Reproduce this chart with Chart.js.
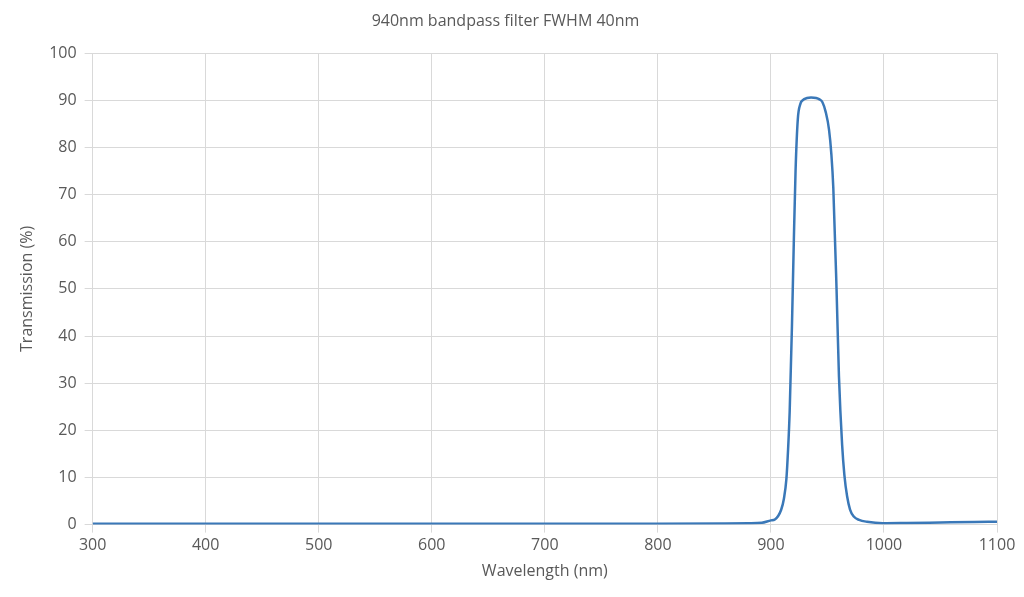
<!DOCTYPE html>
<html>
<head>
<meta charset="utf-8">
<script src="https://cdn.jsdelivr.net/npm/chart.js@4"></script>
<style>
  body { margin: 0; background: #fff; }
  #wrap { width: 1024px; height: 597px; }
</style>
</head>
<body>
<div id="wrap"><canvas id="chart"></canvas></div>
<script>
// wavelength (nm) and transmission (%)
const wavelengths = [300, 400, 500, 600, 700, 800, 860, 880, 892, 900, 903.5, 909, 911.5, 913.7, 915.2, 916.6, 918.6, 920.3, 921.8, 923.8, 926, 928, 932, 935.5, 940, 943, 945.6, 948.5, 951.4, 953.5, 955.2, 958.1, 960.2, 963, 965, 967.4, 970, 973.3, 978, 985, 999, 1020, 1050, 1080, 1100];
const transmission = [0.2, 0.2, 0.2, 0.2, 0.2, 0.2, 0.25, 0.3, 0.4, 0.9, 1.1, 3.1, 5.5, 9.7, 16, 24, 42, 60.5, 75, 86, 89.2, 90, 90.5, 90.6, 90.5, 90.2, 89.6, 87.5, 83.8, 78.5, 71.4, 49.6, 31.4, 16.9, 10.5, 6, 3.2, 1.7, 1, 0.6, 0.3, 0.35, 0.45, 0.55, 0.6];
const xTicks = [300, 400, 500, 600, 700, 800, 900, 1000, 1100];

const points = wavelengths.map((w, i) => ({ x: w, y: transmission[i] }));
const textColor = '#595959';
const font = { family: 'Open Sans', size: 16 };

new Chart(document.getElementById('chart'), {
    type: 'line',
    data: {
        datasets: [{
            data: points,
            borderColor: '#3a78b8',
            borderWidth: 2.5,
            pointRadius: 0,
            cubicInterpolationMode: 'monotone'
        }]
    },
    options: {
        responsive: true,
        maintainAspectRatio: false,
        animation: false,
        layout: { padding: { left: 14, right: 27, top: 4, bottom: 12 } },
        plugins: {
            legend: { display: false },
            tooltip: { enabled: false },
            title: {
                display: true,
                text: '940nm bandpass filter FWHM 40nm',
                color: textColor,
                font: { family: 'Open Sans', size: 16, weight: 'normal' },
                padding: { top: 8, bottom: 22 }
            }
        },
        scales: {
            x: {
                type: 'linear',
                min: 300, max: 1100,
                afterBuildTicks: axis => { axis.ticks = xTicks.map(v => ({ value: v })); },
                grid: { color: '#d9d9d9' },
                border: { color: '#d9d9d9' },
                ticks: { color: textColor, font: font, maxRotation: 0, callback: v => String(v) },
                title: { display: true, text: 'Wavelength (nm)', color: textColor, font: font }
            },
            y: {
                min: 0, max: 100,
                ticks: { stepSize: 10, color: textColor, font: font, padding: 8 },
                grid: { color: '#d9d9d9' },
                border: { color: '#d9d9d9' },
                title: { display: true, text: 'Transmission (%)', color: textColor, font: font }
            }
        }
    }
});
</script>
</body>
</html>
